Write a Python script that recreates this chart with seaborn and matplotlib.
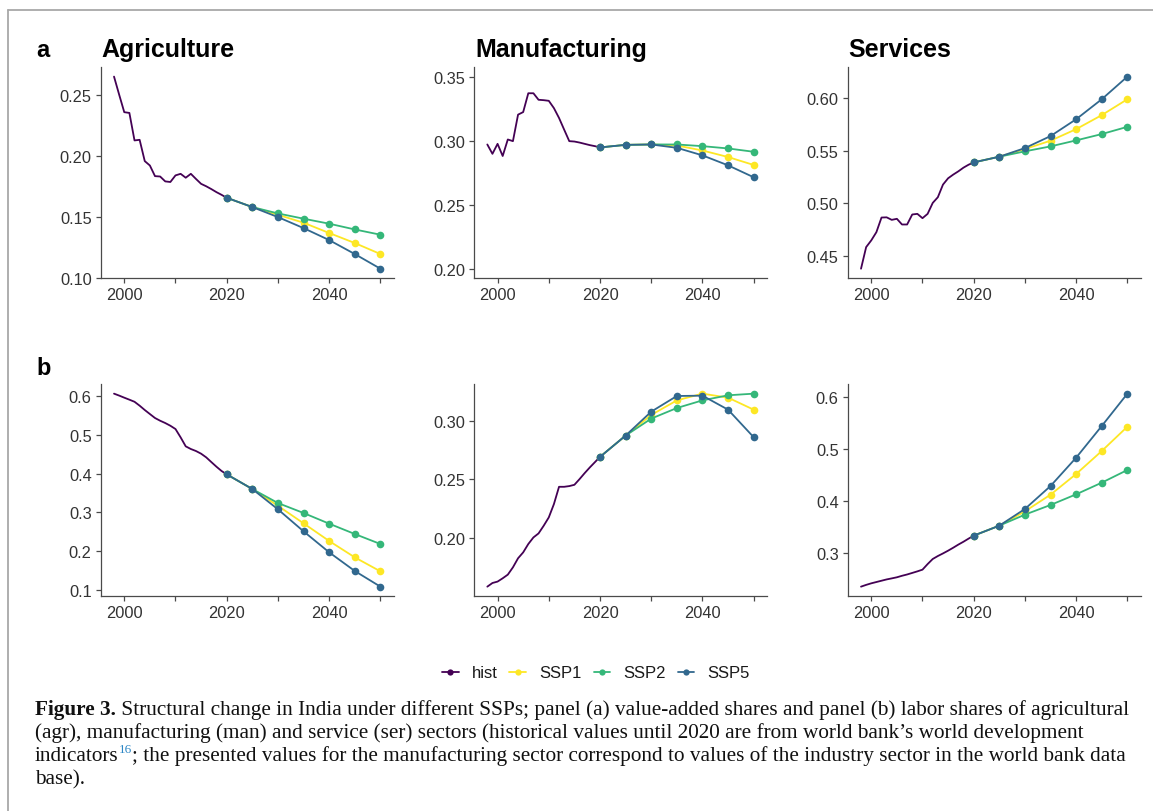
import numpy as np
import pandas as pd
import matplotlib
matplotlib.use("Agg")
import matplotlib.pyplot as plt
import seaborn as sns
from matplotlib.lines import Line2D

# ---------------- data ----------------
hist_years = list(range(1998, 2021))
scen_years = [2020, 2025, 2030, 2035, 2040, 2045, 2050]
scenarios = ["SSP1", "SSP2", "SSP5"]
sectors = ["Agriculture", "Manufacturing", "Services"]

# panel a: value-added shares
va_agr_hist = [0.2647, 0.250, 0.2356, 0.235, 0.2125, 0.213, 0.1956, 0.192, 0.1833, 0.183, 0.179, 0.1785,
               0.1839, 0.1852, 0.182, 0.1852, 0.181, 0.177, 0.175, 0.1727, 0.1702, 0.168, 0.1656]
va_agr_ssp1 = [0.1656, 0.158, 0.1517, 0.1452, 0.1368, 0.1286, 0.1196]
va_agr_ssp2 = [0.1656, 0.158, 0.1528, 0.1485, 0.1444, 0.1397, 0.1354]
va_agr_ssp5 = [0.1656, 0.158, 0.1498, 0.1408, 0.1310, 0.1196, 0.1076]

va_man_hist = [0.297, 0.2897, 0.2975, 0.288, 0.3009, 0.2996, 0.3203, 0.3223, 0.337, 0.337, 0.3319, 0.3316,
               0.3311, 0.3254, 0.3177, 0.3086, 0.2996, 0.2993, 0.2985, 0.2975, 0.2965, 0.2957, 0.2947]
va_man_ssp1 = [0.2947, 0.2967, 0.2970, 0.2962, 0.2923, 0.2872, 0.2810]
va_man_ssp2 = [0.2947, 0.2967, 0.2970, 0.2970, 0.2957, 0.2939, 0.2913]
va_man_ssp5 = [0.2947, 0.2967, 0.2970, 0.2944, 0.2885, 0.2807, 0.2714]

va_ser_hist = [0.438, 0.4585, 0.4649, 0.4727, 0.4866, 0.4868, 0.4844, 0.4854, 0.480, 0.480, 0.4895, 0.4901,
               0.486, 0.4901, 0.5005, 0.5059, 0.5179, 0.5239, 0.5274, 0.5305, 0.534, 0.5368, 0.539]
va_ser_ssp1 = [0.539, 0.5444, 0.5517, 0.5596, 0.5706, 0.5839, 0.5990]
va_ser_ssp2 = [0.539, 0.5444, 0.5495, 0.5542, 0.5599, 0.5659, 0.5728]
va_ser_ssp5 = [0.539, 0.5444, 0.5526, 0.5640, 0.5800, 0.5990, 0.6205]

# panel b: labour shares
lab_agr_hist = [0.607, 0.602, 0.5966, 0.5914, 0.586, 0.5759, 0.5647, 0.5543, 0.544, 0.537, 0.531, 0.524,
                0.5155, 0.494, 0.4707, 0.4638, 0.4586, 0.4517, 0.4422, 0.430, 0.418, 0.4069, 0.3983]
lab_agr_ssp1 = [0.3983, 0.3603, 0.3170, 0.2716, 0.2259, 0.1836, 0.1474]
lab_agr_ssp2 = [0.3983, 0.3603, 0.3241, 0.2983, 0.2707, 0.2440, 0.2181]
lab_agr_ssp5 = [0.3983, 0.3603, 0.3078, 0.2509, 0.1966, 0.1483, 0.1078]

lab_man_hist = [0.159, 0.1621, 0.1633, 0.1661, 0.1692, 0.1754, 0.1831, 0.1881, 0.1952, 0.2008, 0.2042, 0.2107,
                0.2178, 0.2291, 0.2438, 0.2438, 0.2444, 0.2455, 0.2503, 0.2554, 0.2602, 0.2647, 0.2692]
lab_man_ssp1 = [0.2692, 0.2873, 0.3048, 0.3172, 0.3229, 0.3195, 0.3093]
lab_man_ssp2 = [0.2692, 0.2873, 0.3017, 0.3107, 0.3172, 0.3215, 0.3229]
lab_man_ssp5 = [0.2692, 0.2873, 0.3076, 0.3209, 0.3212, 0.3093, 0.2859]

lab_ser_hist = [0.2346, 0.238, 0.241, 0.2435, 0.246, 0.2485, 0.2505, 0.2526, 0.2555, 0.258, 0.261, 0.264,
                0.2673, 0.278, 0.2878, 0.2935, 0.2985, 0.3038, 0.3095, 0.3155, 0.321, 0.327, 0.3327]
lab_ser_ssp1 = [0.3327, 0.3519, 0.3795, 0.4115, 0.4513, 0.4955, 0.5423]
lab_ser_ssp2 = [0.3327, 0.3519, 0.3731, 0.3917, 0.4122, 0.4346, 0.4590]
lab_ser_ssp5 = [0.3327, 0.3519, 0.3840, 0.4282, 0.4827, 0.5436, 0.6058]

x_ticks = [2000, 2010, 2020, 2030, 2040, 2050]
x_ticklabels = ["2000", "", "2020", "", "2040", ""]
yticks_a = [[0.10, 0.15, 0.20, 0.25], [0.20, 0.25, 0.30, 0.35], [0.45, 0.50, 0.55, 0.60]]
yticks_b = [[0.1, 0.2, 0.3, 0.4, 0.5, 0.6], [0.20, 0.25, 0.30], [0.3, 0.4, 0.5, 0.6]]
legend_labels = ["hist", "SSP1", "SSP2", "SSP5"]

# ---------------- style ----------------
colors = {"hist": "#440154", "SSP1": "#FDE725", "SSP2": "#35B779", "SSP5": "#31688E"}
sns.set_theme(style="ticks")
plt.rcParams["font.family"] = ["Liberation Sans", "DejaVu Sans"]

W, H = 1153, 812
fig = plt.figure(figsize=(W / 100, H / 100), dpi=100)
renderer = fig.canvas.get_renderer()

panels = [
    [(va_agr_hist, va_agr_ssp1, va_agr_ssp2, va_agr_ssp5),
     (va_man_hist, va_man_ssp1, va_man_ssp2, va_man_ssp5),
     (va_ser_hist, va_ser_ssp1, va_ser_ssp2, va_ser_ssp5)],
    [(lab_agr_hist, lab_agr_ssp1, lab_agr_ssp2, lab_agr_ssp5),
     (lab_man_hist, lab_man_ssp1, lab_man_ssp2, lab_man_ssp5),
     (lab_ser_hist, lab_ser_ssp1, lab_ser_ssp2, lab_ser_ssp5)],
]
yticks_all = [yticks_a, yticks_b]
ylabfmt = [["{:.2f}"] * 3, ["{:.1f}", "{:.2f}", "{:.1f}"]]

col_left = [100.7, 474.0, 847.7]
col_w = 293.0
row_top = [68.0, 385.0]
row_h = [211.3, 212.3]

def expand(lo, hi, f=0.05):
    d = hi - lo
    return lo - f * d, hi + f * d

axis_col = "#4a4a4a"
tick_col = "#333333"
for r in range(2):
    for c in range(3):
        hist, s1, s2, s5 = panels[r][c]
        left = col_left[c] / W
        bottom = 1 - (row_top[r] + row_h[r]) / H
        ax = fig.add_axes([left, bottom, col_w / W, row_h[r] / H])
        dh = pd.DataFrame({"year": hist_years, "value": hist})
        ds = pd.DataFrame({
            "year": scen_years * 3,
            "value": list(s1) + list(s2) + list(s5),
            "scenario": ["SSP1"] * 7 + ["SSP2"] * 7 + ["SSP5"] * 7,
        })
        sns.lineplot(data=dh, x="year", y="value", color=colors["hist"], lw=1.3, ax=ax)
        sns.lineplot(data=ds, x="year", y="value", hue="scenario", palette=colors,
                     hue_order=scenarios, marker="o", markersize=5.5, markeredgewidth=0,
                     lw=1.3, ax=ax, legend=False)
        allv = list(hist) + list(s1) + list(s2) + list(s5)
        if r == 0 and c == 1:
            ax.set_ylim(*expand(0.20, 0.35))
        else:
            ax.set_ylim(*expand(min(allv), max(allv)))
        ax.set_xlim(*expand(1998, 2050))
        ax.set_xticks(x_ticks)
        ax.set_xticklabels(x_ticklabels)
        yt = yticks_all[r][c]
        ax.set_yticks(yt)
        ax.set_yticklabels([ylabfmt[r][c].format(v) for v in yt])
        ax.set_xlabel("")
        ax.set_ylabel("")
        for s in ["top", "right"]:
            ax.spines[s].set_visible(False)
        for s in ["left", "bottom"]:
            ax.spines[s].set_color(axis_col)
            ax.spines[s].set_linewidth(0.9)
        ax.tick_params(axis="both", colors=axis_col, labelcolor=tick_col, labelsize=11.8,
                       length=3.5, width=0.9, pad=3)
        ax.set_facecolor("white")

# titles and panel letters
for c, name in enumerate(sectors):
    fig.text((col_left[c] + 1) / W, 1 - 57 / H, name, fontsize=18, fontweight="bold",
             color="black", va="baseline", ha="left")
fig.text(36 / W, 1 - 57 / H, "a", fontsize=17, fontweight="bold", color="black", va="baseline")
fig.text(36 / W, 1 - 375 / H, "b", fontsize=17, fontweight="bold", color="black", va="baseline")

# legend
handles = [Line2D([0], [0], color=colors[k], lw=1.3, marker="o", markersize=4.5,
                  markeredgewidth=0) for k in legend_labels]
fig.legend(handles, legend_labels, loc="center", bbox_to_anchor=(596 / W, 1 - 674 / H),
           ncol=4, frameon=False, fontsize=12, handlelength=1.0, handletextpad=0.8,
           columnspacing=0.7, labelcolor="#1a1a1a")

# caption
serif = ["Liberation Serif", "DejaVu Serif"]
cap_lines = [
    [("Figure 3.", dict(weight="bold")),
     (" Structural change in India under different SSPs; panel (a) value-added shares and panel (b) labor shares of agricultural", {})],
    [("(agr), manufacturing (man) and service (ser) sectors (historical values until 2020 are from world bank\u2019s world development", {})],
    [("indicators", {}), ("16", dict(sup=True)),
     ("; the presented values for the manufacturing sector correspond to values of the industry sector in the world bank data", {})],
    [("base).", {})],
]
baselines = [715, 738, 761, 784]

def place(runs, x_px, base_px, fs):
    arts = []
    x = x_px
    for txt, kw in runs:
        size = fs * (0.62 if kw.get("sup") else 1.0)
        y = base_px - (fs * 0.5 if kw.get("sup") else 0)
        t = fig.text(x / W, 1 - y / H, txt, fontsize=size, family=serif,
                     fontweight=kw.get("weight", "normal"),
                     color="#2b86c5" if kw.get("sup") else "#111111",
                     va="baseline", ha="left")
        bb = t.get_window_extent(renderer)
        x += bb.width
        arts.append(t)
    return arts, x - x_px

fs0 = 14
arts, wid = place(cap_lines[0], 35, baselines[0], fs0)
for a in arts:
    a.remove()
fs = fs0 * 1096.0 / wid
for runs, b in zip(cap_lines, baselines):
    place(runs, 35, b, fs)

# frame lines
fig.add_artist(Line2D([8 / W, 1.0], [1 - 11 / H, 1 - 11 / H], color="#a8a8a8", lw=1.3,
                      transform=fig.transFigure))
fig.add_artist(Line2D([8 / W, 8 / W], [1 - 11 / H, 0.0], color="#a8a8a8", lw=1.3,
                      transform=fig.transFigure))

fig.savefig("out.png", dpi=100, facecolor="white")
